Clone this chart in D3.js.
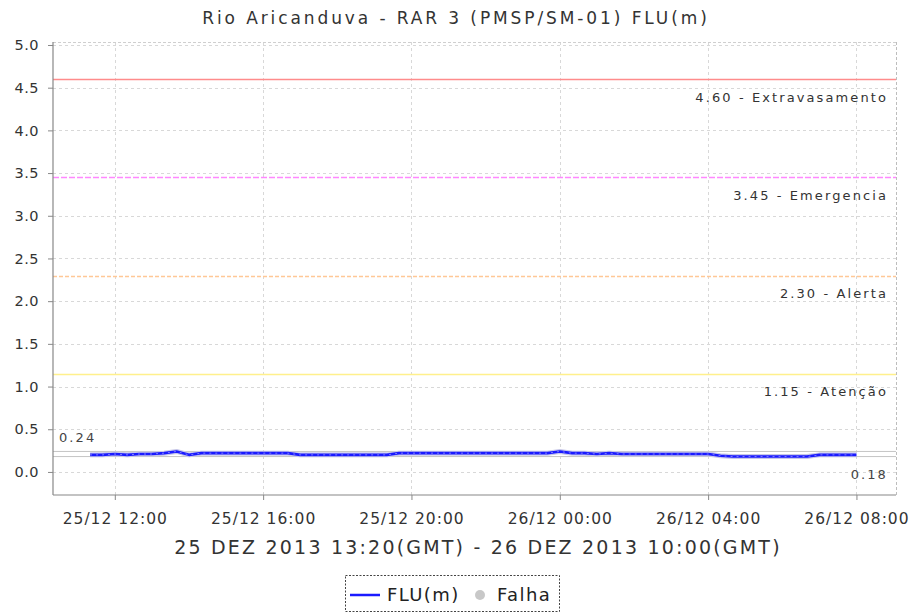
<!DOCTYPE html>
<html>
<head>
<meta charset="utf-8">
<script src="https://cdn.jsdelivr.net/npm/d3@7"></script>
<style>
  body { margin: 0; background: #fff; }
  svg { display: block; font-family: "DejaVu Sans", sans-serif; }
</style>
</head>
<body>
<svg id="chart" width="913" height="614"></svg>
<script>
// ---- data ----
const title = "Rio Aricanduva - RAR 3 (PMSP/SM-01) FLU(m)";
const xAxisTitle = "25 DEZ 2013 13:20(GMT) - 26 DEZ 2013 10:00(GMT)";
const times = [
  "2013-12-25 11:20","2013-12-25 11:40","2013-12-25 12:00","2013-12-25 12:20","2013-12-25 12:40",
  "2013-12-25 13:00","2013-12-25 13:20","2013-12-25 13:40","2013-12-25 14:00","2013-12-25 14:20",
  "2013-12-25 14:40","2013-12-25 15:00","2013-12-25 15:20","2013-12-25 15:40","2013-12-25 16:00",
  "2013-12-25 16:20","2013-12-25 16:40","2013-12-25 17:00","2013-12-25 17:20","2013-12-25 17:40",
  "2013-12-25 18:00","2013-12-25 18:20","2013-12-25 18:40","2013-12-25 19:00","2013-12-25 19:20",
  "2013-12-25 19:40","2013-12-25 20:00","2013-12-25 20:20","2013-12-25 20:40","2013-12-25 21:00",
  "2013-12-25 21:20","2013-12-25 21:40","2013-12-25 22:00","2013-12-25 22:20","2013-12-25 22:40",
  "2013-12-25 23:00","2013-12-25 23:20","2013-12-25 23:40","2013-12-26 00:00","2013-12-26 00:20",
  "2013-12-26 00:40","2013-12-26 01:00","2013-12-26 01:20","2013-12-26 01:40","2013-12-26 02:00",
  "2013-12-26 02:20","2013-12-26 02:40","2013-12-26 03:00","2013-12-26 03:20","2013-12-26 03:40",
  "2013-12-26 04:00","2013-12-26 04:20","2013-12-26 04:40","2013-12-26 05:00","2013-12-26 05:20",
  "2013-12-26 05:40","2013-12-26 06:00","2013-12-26 06:20","2013-12-26 06:40","2013-12-26 07:00",
  "2013-12-26 07:20","2013-12-26 07:40","2013-12-26 08:00"
];
const flu = [
  0.20,0.20,0.21,0.20,0.21,
  0.21,0.22,0.24,0.20,0.22,
  0.22,0.22,0.22,0.22,0.22,
  0.22,0.22,0.20,0.20,0.20,
  0.20,0.20,0.20,0.20,0.20,
  0.22,0.22,0.22,0.22,0.22,
  0.22,0.22,0.22,0.22,0.22,
  0.22,0.22,0.22,0.24,0.22,
  0.22,0.21,0.22,0.21,0.21,
  0.21,0.21,0.21,0.21,0.21,
  0.21,0.19,0.18,0.18,0.18,
  0.18,0.18,0.18,0.18,0.20,
  0.20,0.20,0.20
];
const thresholdValues = [4.60, 3.45, 2.30, 1.15];
const thresholdNames = ["Extravasamento", "Emergencia", "Alerta", "Atenção"];
const thresholdColors = ["#ff8c8c", "#ff88ff", "#ffc896", "#fff08c"];
const thresholdDash = [null, "6,2", "4,2", null];
const maxValue = 0.24, minValue = 0.18;
const yTicks = [0.0, 0.5, 1.0, 1.5, 2.0, 2.5, 3.0, 3.5, 4.0, 4.5, 5.0];
const xTickTimes = ["2013-12-25 12:00","2013-12-25 16:00","2013-12-25 20:00","2013-12-26 00:00","2013-12-26 04:00","2013-12-26 08:00"];
const xDomain = ["2013-12-25 10:20","2013-12-26 09:04"];
const yDomain = [-0.27, 5.035];
const legendNames = ["FLU(m)", "Falha"];

// ---- chart ----
const parse = d3.timeParse("%Y-%m-%d %H:%M");
const data = times.map((t, i) => ({ t: parse(t), v: flu[i] }));
const svg = d3.select("#chart");
const L = 53, R = 896, T = 42, B = 495;

const x = d3.scaleTime().domain(xDomain.map(parse)).range([L, R]);
const y = d3.scaleLinear().domain(yDomain).range([B, T]);

// grid
const grid = svg.append("g");
grid.selectAll("line.h").data(yTicks).join("line")
  .attr("x1", L).attr("x2", R).attr("y1", d => Math.round(y(d)) + 0.5).attr("y2", d => Math.round(y(d)) + 0.5)
  .attr("stroke", "#d8d8d8").attr("stroke-dasharray", "3,3").attr("stroke-width", 1);
grid.selectAll("line.v").data(xTickTimes.map(parse)).join("line")
  .attr("x1", d => Math.round(x(d)) + 0.5).attr("x2", d => Math.round(x(d)) + 0.5).attr("y1", T).attr("y2", B)
  .attr("stroke", "#d8d8d8").attr("stroke-dasharray", "3,3").attr("stroke-width", 1);
// top & right border
svg.append("line").attr("x1", L).attr("x2", R).attr("y1", T + 0.5).attr("y2", T + 0.5)
  .attr("stroke", "#cfcfcf").attr("stroke-dasharray", "3,2");
svg.append("line").attr("x1", R + 0.5).attr("x2", R + 0.5).attr("y1", T).attr("y2", B)
  .attr("stroke", "#bdbdbd").attr("stroke-dasharray", "3,2");

// threshold lines
const thr = svg.append("g");
thresholdValues.forEach((v, i) => {
  thr.append("line").attr("x1", L).attr("x2", R)
    .attr("y1", Math.round(y(v)) + 0.5).attr("y2", Math.round(y(v)) + 0.5)
    .attr("stroke", thresholdColors[i]).attr("stroke-width", 1.3)
    .attr("stroke-dasharray", thresholdDash[i]);
  thr.append("text").attr("x", 888).attr("y", y(v) + 22.5)
    .attr("text-anchor", "end").attr("font-size", 13).attr("letter-spacing", 2.1)
    .attr("fill", "#333").text(d3.format(".2f")(v) + " - " + thresholdNames[i]);
});

// min / max lines
[maxValue, minValue].forEach(v => {
  svg.append("line").attr("x1", L).attr("x2", R)
    .attr("y1", y(v)).attr("y2", y(v))
    .attr("stroke", "#c4c4c4").attr("stroke-width", 1);
});
svg.append("text").attr("x", 59).attr("y", y(maxValue) - 9.5)
  .attr("font-size", 13).attr("letter-spacing", 2.1).attr("fill", "#444")
  .text(d3.format(".2f")(maxValue));
svg.append("text").attr("x", 888).attr("y", y(minValue) + 22)
  .attr("text-anchor", "end").attr("font-size", 13).attr("letter-spacing", 2.1).attr("fill", "#444")
  .text(d3.format(".2f")(minValue));

// data line
const line = d3.line().x(d => x(d.t)).y(d => y(d.v));
svg.append("path").datum(data).attr("d", line)
  .attr("fill", "none").attr("stroke", "#c8c8e8").attr("stroke-width", 5).attr("stroke-linejoin", "round");
svg.append("path").datum(data).attr("d", line)
  .attr("fill", "none").attr("stroke", "#1a1aff").attr("stroke-width", 2.6).attr("stroke-linejoin", "round");
svg.append("path").datum(data).attr("d", line)
  .attr("fill", "none").attr("stroke", "#ffffff").attr("stroke-opacity", 0.55)
  .attr("stroke-width", 0.8).attr("stroke-dasharray", "2,4");

// axes
const yAxis = d3.axisLeft(y).tickValues(yTicks).tickFormat(d3.format(".1f")).tickSize(5).tickPadding(9);
const gy = svg.append("g").attr("transform", `translate(${L},0)`).call(yAxis);
gy.select(".domain").attr("stroke", "#888").attr("stroke-width", 1.2).attr("d", `M0,${T}V${B}`);
gy.selectAll(".tick line").attr("stroke", "#888");
gy.selectAll(".tick text").attr("font-size", 14.5).attr("letter-spacing", 0.5).attr("fill", "#333")
  .attr("font-family", "DejaVu Sans");

const xAxis = d3.axisBottom(x).tickValues(xTickTimes.map(parse))
  .tickFormat(d3.timeFormat("%d/%m %H:%M")).tickSize(5).tickPadding(13);
const gx = svg.append("g").attr("transform", `translate(0,${B})`).call(xAxis);
gx.select(".domain").attr("stroke", "#888").attr("stroke-width", 1.2).attr("d", `M${L},0H${R}`);
gx.selectAll(".tick line").attr("stroke", "#888");
gx.selectAll(".tick text").attr("font-size", 15.5).attr("fill", "#333")
  .attr("font-family", "DejaVu Sans").attr("letter-spacing", 1.0);

// titles
svg.append("text").attr("x", 456).attr("y", 24).attr("text-anchor", "middle")
  .attr("font-size", 17).attr("fill", "#333").attr("letter-spacing", 2.9).text(title);
svg.append("text").attr("x", 478).attr("y", 554).attr("text-anchor", "middle")
  .attr("font-size", 19).attr("fill", "#333").attr("letter-spacing", 2.2).text(xAxisTitle);

// legend
const lg = svg.append("g");
lg.append("rect").attr("x", 345.5).attr("y", 575.5).attr("width", 214).attr("height", 36)
  .attr("fill", "#fff").attr("stroke", "#444").attr("stroke-dasharray", "2,1.5");
lg.append("line").attr("x1", 350).attr("x2", 380).attr("y1", 595).attr("y2", 595)
  .attr("stroke", "#1a1aff").attr("stroke-width", 2.5);
lg.append("text").attr("x", 387).attr("y", 601).attr("font-size", 18).attr("letter-spacing", 1.4)
  .attr("fill", "#222").text(legendNames[0]);
lg.append("circle").attr("cx", 480).attr("cy", 595).attr("r", 5).attr("fill", "#c8c8c8");
lg.append("text").attr("x", 497).attr("y", 601).attr("font-size", 18).attr("letter-spacing", 1.4)
  .attr("fill", "#222").text(legendNames[1]);
</script>
</body>
</html>
